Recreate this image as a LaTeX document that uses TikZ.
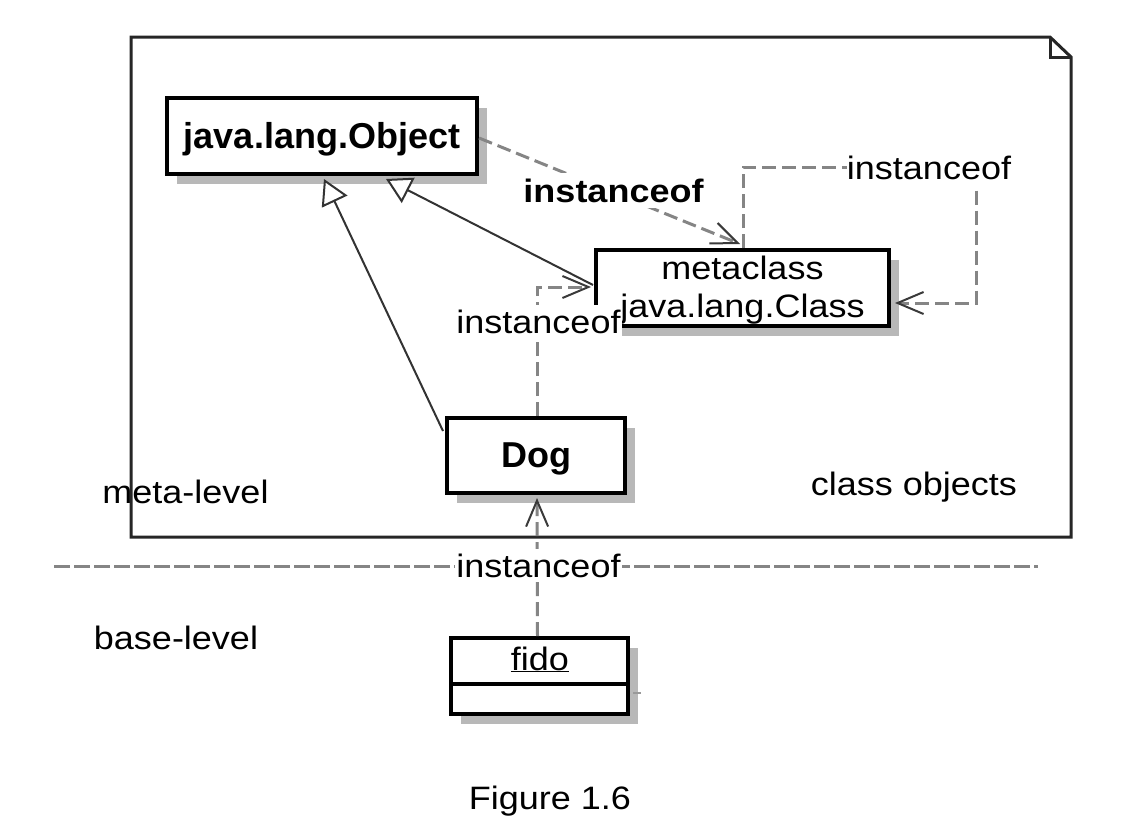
\documentclass[tikz,border=0pt]{standalone}
\usepackage{fontspec}
\setmainfont{Liberation Sans}
\usetikzlibrary{arrows.meta,shadows,calc}
\newcommand{\vs}[1]{\scalebox{1}[0.9]{#1}}
\definecolor{dashgrey}{HTML}{858585}
\definecolor{tipgrey}{HTML}{3A3A3A}
\definecolor{shadowgrey}{HTML}{B8B8B8}
\begin{document}
\begin{tikzpicture}[x=1pt,y=-1pt,
  every node/.style={font=\fontsize{36}{38}\selectfont, inner sep=0pt},
  umlbox/.style={draw=black, line width=4pt, fill=white,
    general shadow={shadow xshift=10pt, shadow yshift=-10pt, fill=shadowgrey}},
  titled/.style={text height=26pt, text depth=2pt, font=\fontsize{36}{38}\selectfont\bfseries},
  gen/.style={draw=black!80, line width=2pt, -{Triangle[length=25pt,width=28pt,fill=white,line width=2pt]}},
  inst/.style={draw=dashgrey, line width=3pt, dash pattern=on 14pt off 6pt,
    -{Straight Barb[length=26pt,width=22pt,line width=2pt,color=tipgrey]}},
  lbl/.style={fill=white, inner xsep=1pt, inner ysep=5pt, anchor=base},
  plain/.style={anchor=base},
]
\useasboundingbox[fill=white] (0,0) rectangle (1144,830);

% package / note frame
\draw[line width=3pt, draw=black!85, line join=miter]
  (131,37) -- (1050,37) -- (1071,57) -- (1071,537) -- (131,537) -- cycle;
\draw[line width=3pt, draw=black!85] (1050,37) -- (1050,57) -- (1071,57);

% level divider
\draw[dashgrey, line width=3pt, dash pattern=on 16pt off 4pt] (54,566) -- (1038,566);

% boxes
\node[umlbox, titled, minimum width=310pt, minimum height=76pt] (obj) at (322,136) {java.lang.Object};
\node[umlbox, titled, minimum width=178pt, minimum height=75pt] (dog) at (536,455.5) {Dog};
\node[umlbox, minimum width=293pt, minimum height=76pt] (meta) at (742.5,288) {};
\node[plain] (metat1) at (742.5,279) {\vs{metaclass}};
\node[plain] (metat2) at (742.5,317) {\vs{java.lang.Class}};
\node[umlbox, minimum width=177pt, minimum height=76pt] (fido) at (539.5,676) {};
\coordinate (fdiv) at (0,684);
\draw[line width=4pt] (fido.west |- fdiv) -- (fido.east |- fdiv);
\coordinate (stubA) at (633,693);
\coordinate (stubB) at (641,693);
\draw[line width=1.5pt, draw=black!40] (stubA) -- (stubB);
\node[plain] (fidot) at (540,670) {\vs{\underline{fido}}};

% generalizations
\draw[gen] ($(dog.north west)+(-2,15)$) -- ($(obj.south west)+(159,3)$);
\draw[gen] ($(meta.west)+(-1,-3)$) -- ($(obj.south west)+(221,3)$);

% instanceof dependencies
\draw[inst] ($(obj.east)+(0,2)$) -- ($(meta.north)+(-2.5,-4)$);
\node[lbl, font=\fontsize{36}{38}\selectfont\bfseries, inner ysep=6pt] (lblA) at (613.5,202) {\vs{instanceof}};

\node[plain] (lblB) at (929,179) {\vs{instanceof}};
\draw[inst, -] ($(meta.north)+(0.5,0)$) |- (lblB.west);
\draw[inst] ($(lblB.south east)+(-35,11)$) |- ($(meta.east)+(4,15)$);

\draw[inst] ($(dog.north)+(1,0)$) |- ($(meta.west)+(-3,-1)$);
\node[lbl] (lblC) at (538.5,333) {\vs{instanceof}};

\draw[inst] ($(fido.north)+(-2,0)$) -- ($(dog.south)+(1,3)$);
\node[lbl] (lblD) at (538.5,577) {\vs{instanceof}};

% free texts
\node[plain] (metalevel) at (185.5,503) {\vs{meta-level}};
\node[plain] (classobj) at (914,495) {\vs{class objects}};
\node[plain] (baselevel) at (176,649) {\vs{base-level}};
\node[plain] (figcap) at (550,809) {\vs{Figure 1.6}};
\end{tikzpicture}
\end{document}
